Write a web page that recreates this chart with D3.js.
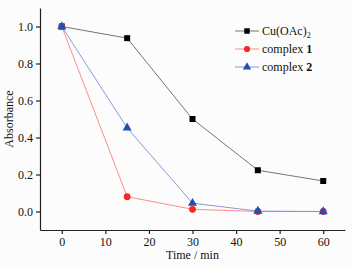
<!DOCTYPE html>
<html>
<head>
<meta charset="utf-8">
<script src="https://cdn.jsdelivr.net/npm/d3@7"></script>
<style>
  html, body { margin: 0; padding: 0; background: #fcfcfc; }
  svg { display: block; }
</style>
</head>
<body>
<div id="chart"></div>
<script>
// data
const times = [0, 15, 30, 45, 60];
const cuOAc = [1.0, 0.937, 0.50, 0.223, 0.165];
const complex1 = [1.0, 0.08, 0.012, 0.0, 0.0];
const complex2 = [1.0, 0.452, 0.045, 0.002, 0.0];
const xTicks = [0, 10, 20, 30, 40, 50, 60];
const yTicks = [0.0, 0.2, 0.4, 0.6, 0.8, 1.0];

const width = 353, height = 266;
const margin = { top: 8, right: 8, bottom: 36, left: 40 };
const serif = "'Liberation Serif', 'Times New Roman', serif";

const svg = d3.select("#chart")
    .append("svg")
    .attr("width", width)
    .attr("height", height)
    .style("font-family", serif);

const x = d3.scaleLinear().domain([-5, 65]).range([margin.left, width - margin.right]);
const y = d3.scaleLinear().domain([-0.1, 1.1]).range([height - margin.bottom, margin.top]);

// x axis: major + minor ticks, outward
const gx = svg.append("g")
    .attr("transform", `translate(0,${height - margin.bottom})`);
gx.call(d3.axisBottom(x).tickValues(d3.range(-5, 66, 5)).tickSize(2).tickFormat(""))
    .call(g => g.select(".domain").remove());
gx.call(d3.axisBottom(x).tickValues(xTicks).tickSize(4).tickSizeOuter(0).tickPadding(3)
        .tickFormat(d3.format("d")));

// y axis
const gy = svg.append("g")
    .attr("transform", `translate(${margin.left},0)`);
gy.call(d3.axisLeft(y).tickValues(d3.range(-0.1, 1.11, 0.1)).tickSize(2).tickFormat(""))
    .call(g => g.select(".domain").remove());
gy.call(d3.axisLeft(y).tickValues(yTicks).tickSize(4).tickSizeOuter(0).tickPadding(3)
        .tickFormat(d3.format(".1f")));

svg.selectAll(".tick text")
    .style("font-family", serif)
    .style("font-size", "12px")
    .attr("fill", "#111");
svg.selectAll(".domain, .tick line").attr("stroke", "#222").attr("stroke-width", 1.2);

// axis titles
svg.append("text")
    .attr("x", (margin.left + width - margin.right) / 2)
    .attr("y", 259)
    .attr("text-anchor", "middle")
    .style("font-size", "12px")
    .attr("fill", "#111")
    .text("Time / min");

svg.append("text")
    .attr("transform", `translate(13,${(margin.top + height - margin.bottom) / 2}) rotate(-90)`)
    .attr("text-anchor", "middle")
    .style("font-size", "12px")
    .attr("fill", "#111")
    .text("Absorbance");

const series = [
    { name: "Cu(OAc)", values: cuOAc, line: "#666", fill: "#000", shape: d3.symbolSquare },
    { name: "complex ", values: complex1, line: "#ff8080", fill: "#f22", shape: d3.symbolCircle },
    { name: "complex ", values: complex2, line: "#7f8fd0", fill: "#2050b0", shape: d3.symbolTriangle }
];

const line = d3.line().x((d, i) => x(times[i])).y(d => y(d));

series.forEach(s => {
    svg.append("path")
        .datum(s.values)
        .attr("d", line)
        .attr("fill", "none")
        .attr("stroke", s.line)
        .attr("stroke-width", 0.9);
});

series.forEach(s => {
    svg.selectAll(null)
        .data(s.values)
        .join("path")
        .attr("transform", (d, i) => `translate(${x(times[i])},${y(d)})`)
        .attr("d", d3.symbol().type(s.shape).size(36))
        .attr("fill", s.fill);
});

// legend
const legend = svg.append("g");
series.forEach((s, i) => {
    const ly = 31 + i * 18;
    legend.append("line")
        .attr("x1", 235).attr("x2", 259)
        .attr("y1", ly).attr("y2", ly)
        .attr("stroke", s.line).attr("stroke-width", 0.9);
    legend.append("path")
        .attr("transform", `translate(247,${ly})`)
        .attr("d", d3.symbol().type(s.shape).size(30))
        .attr("fill", s.fill);
    const t = legend.append("text")
        .attr("x", 262).attr("y", ly + 4)
        .style("font-size", "12px")
        .attr("fill", "#111");
    t.append("tspan").text(s.name);
    if (i === 0) {
        t.append("tspan").attr("dy", 3).style("font-size", "8px").text("2");
    } else {
        t.append("tspan").style("font-weight", "bold").text(String(i));
    }
});
</script>
</body>
</html>
